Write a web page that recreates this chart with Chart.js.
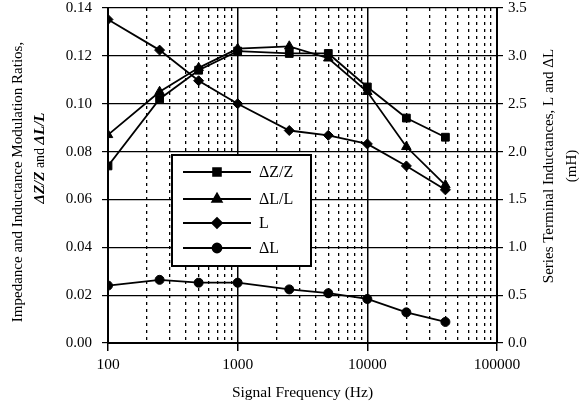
<!DOCTYPE html>
<html>
<head>
<meta charset="utf-8">
<script src="https://cdn.jsdelivr.net/npm/chart.js@4"></script>
<style>
  html, body { margin: 0; padding: 0; background: #fff; }
  #wrap { width: 579px; height: 405px; position: relative; }
</style>
</head>
<body>
<div id="wrap"><canvas id="chart"></canvas></div>
<script>
// frequencies (Hz)
const freqs = [100, 250, 500, 1000, 2500, 5000, 10000, 20000, 40000];

// left axis: modulation ratios
const dZZ = [0.074, 0.102, 0.114, 0.122, 0.121, 0.121, 0.107, 0.094, 0.086];
const dLL = [0.087, 0.105, 0.115, 0.123, 0.124, 0.119, 0.105, 0.082, 0.066];

// right axis: inductances (mH)
const L = [3.38, 3.06, 2.74, 2.50, 2.22, 2.17, 2.08, 1.85, 1.60];
const dL = [0.60, 0.66, 0.63, 0.63, 0.56, 0.52, 0.46, 0.32, 0.22];

const majorTicks = [100, 1000, 10000, 100000];
const minorTicks = [200, 300, 400, 500, 600, 700, 800, 900,
                    2000, 3000, 4000, 5000, 6000, 7000, 8000, 9000,
                    20000, 30000, 40000, 50000, 60000, 70000, 80000, 90000];

const legendNames = ["\u0394Z/Z", "\u0394L/L", "L", "\u0394L"];
const FONT = "'Liberation Serif', 'Times New Roman', serif";

function pts(values) {
    return freqs.map((f, i) => ({ x: f, y: values[i] }));
}

function series(label, values, axis, style, radius) {
    return {
        label,
        data: pts(values),
        yAxisID: axis,
        borderColor: "#000",
        backgroundColor: "#000",
        borderWidth: 1.8,
        pointStyle: style,
        pointRadius: radius,
        pointBorderWidth: 1,
        pointBorderColor: "#000",
        pointBackgroundColor: "#000",
        tension: 0
    };
}

// fixed width, and no extra top/bottom label padding so the plot can reach the edges
function fitY(width) {
    return (s) => {
        s.width = width;
        s.paddingTop = 0;
        s.paddingBottom = 0;
    };
}

// axis titles + legend box drawn on canvas
const extrasPlugin = {
    id: "extras",
    afterDraw(chart) {
        const ctx = chart.ctx;
        const a = chart.chartArea;
        ctx.save();
        ctx.fillStyle = "#000";
        ctx.textAlign = "center";
        ctx.textBaseline = "middle";

        // left title
        ctx.save();
        ctx.translate(18, 182);
        ctx.rotate(-Math.PI / 2);
        ctx.font = "15px " + FONT;
        ctx.fillText("Impedance and Inductance Modulation Ratios,", 0, 0);
        ctx.restore();
        ctx.save();
        ctx.translate(40, 158);
        ctx.rotate(-Math.PI / 2);
        ctx.font = "bold italic 15px " + FONT;
        const p1 = "\u0394Z/Z", p2 = " and ", p3 = "\u0394L/L";
        const w1 = ctx.measureText(p1).width, w3 = ctx.measureText(p3).width;
        ctx.font = "14px " + FONT;
        const w2 = ctx.measureText(p2).width;
        let x = -(w1 + w2 + w3) / 2;
        ctx.textAlign = "left";
        ctx.font = "bold italic 15px " + FONT;
        ctx.fillText(p1, x, 0); x += w1;
        ctx.font = "14px " + FONT;
        ctx.fillText(p2, x, 0); x += w2;
        ctx.font = "bold italic 15px " + FONT;
        ctx.fillText(p3, x, 0);
        ctx.restore();

        // right title
        ctx.save();
        ctx.translate(549, 166);
        ctx.rotate(-Math.PI / 2);
        ctx.font = "15px " + FONT;
        ctx.fillText("Series Terminal Inductances, L and \u0394L", 0, 0);
        ctx.restore();
        ctx.save();
        ctx.translate(572, 166);
        ctx.rotate(-Math.PI / 2);
        ctx.font = "15px " + FONT;
        ctx.fillText("(mH)", 0, 0);
        ctx.restore();

        // legend
        const bx = a.left + 64, by = a.top + 147, bw = 139, bh = 111;
        ctx.fillStyle = "#fff";
        ctx.fillRect(bx, by, bw, bh);
        ctx.strokeStyle = "#000";
        ctx.lineWidth = 2;
        ctx.strokeRect(bx, by, bw, bh);
        const rows = [17, 44, 68, 93];
        chart.data.datasets.forEach((ds, i) => {
            const y = by + rows[i];
            ctx.beginPath();
            ctx.lineWidth = 1.8;
            ctx.moveTo(bx + 11, y);
            ctx.lineTo(bx + 79, y);
            ctx.stroke();
            Chart.helpers.drawPoint(ctx, {
                pointStyle: ds.pointStyle,
                radius: ds.pointRadius,
                borderWidth: 1
            }, bx + 45, y);
            ctx.fillStyle = "#000";
            ctx.fill();
            ctx.font = "16px " + FONT;
            ctx.textAlign = "left";
            ctx.fillText(legendNames[i], bx + 87, y + 1);
        });
        ctx.restore();
    }
};

new Chart(document.getElementById("chart"), {
    type: "line",
    data: {
        datasets: [
            series("\u0394Z/Z", dZZ, "y", "rect", 5.5),
            series("\u0394L/L", dLL, "y", "triangle", 5.5),
            series("L", L, "y1", "rectRot", 5),
            series("\u0394L", dL, "y1", "circle", 4.5)
        ]
    },
    options: {
        responsive: true,
        maintainAspectRatio: false,
        animation: false,
        layout: { padding: { top: 8, left: 0, right: 0, bottom: 0 } },
        plugins: {
            legend: { display: false },
            tooltip: { enabled: false }
        },
        scales: {
            x: {
                type: "logarithmic",
                position: "bottom",
                min: 100,
                max: 100000,
                afterBuildTicks: (s) => { s.ticks = majorTicks.map(v => ({ value: v })); },
                afterFit: (s) => { s.height = 62; },
                ticks: {
                    color: "#000",
                    font: { family: FONT, size: 15.5 },
                    padding: 5,
                    maxRotation: 0,
                    autoSkip: false,
                    callback: (v) => String(v)
                },
                grid: { color: "#000", lineWidth: 1.5, tickLength: 8 },
                border: { color: "#000", width: 2 },
                title: {
                    display: true,
                    text: "Signal Frequency (Hz)",
                    color: "#000",
                    font: { family: FONT, size: 15.5 },
                    padding: { top: 0, bottom: 3 }
                }
            },
            xm: {
                type: "logarithmic",
                position: "bottom",
                min: 100,
                max: 100000,
                afterBuildTicks: (s) => { s.ticks = minorTicks.map(v => ({ value: v })); },
                afterFit: (s) => { s.height = 0; },
                ticks: { display: false },
                grid: { color: "#000", lineWidth: 1.3, drawTicks: false },
                border: { display: false, dash: [3, 4] }
            },
            y: {
                position: "left",
                min: 0,
                max: 0.14,
                afterFit: fitY(108),
                ticks: {
                    stepSize: 0.02,
                    color: "#000",
                    font: { family: FONT, size: 15 },
                    padding: 10,
                    callback: (v) => v.toFixed(2)
                },
                grid: { color: "#000", lineWidth: 1.2, tickLength: 6 },
                border: { color: "#000", width: 2 }
            },
            y1: {
                position: "right",
                min: 0,
                max: 3.5,
                afterFit: fitY(82),
                ticks: {
                    stepSize: 0.5,
                    color: "#000",
                    font: { family: FONT, size: 15 },
                    padding: 5,
                    callback: (v) => v.toFixed(1)
                },
                grid: { drawOnChartArea: false, color: "#000", lineWidth: 1.2, tickLength: 6 },
                border: { color: "#000", width: 2 }
            }
        }
    },
    plugins: [extrasPlugin]
});
</script>
</body>
</html>
